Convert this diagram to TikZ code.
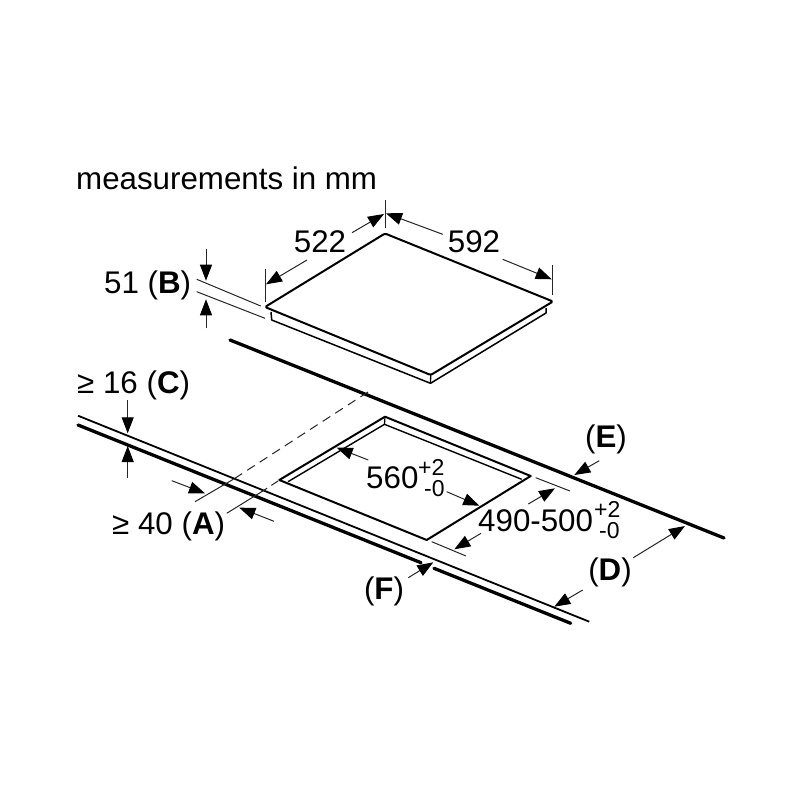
\documentclass[tikz,border=0pt]{standalone}
\usepackage{fontspec}
\setmainfont{Liberation Sans}
\usetikzlibrary{arrows.meta}
\tikzset{
  thickline/.style={line width=3.3pt,line cap=round},
  midline/.style={line width=2pt,line join=round},
  thinline/.style={line width=1pt,black!85},
  dim/.style={line width=1pt,black!85,-{Triangle[length=16pt,width=12pt,black]}},
  lab/.style={font=\fontsize{31.3}{34}\selectfont,inner sep=0pt,anchor=base},
  sm/.style={font=\fontsize{23}{24}\selectfont,inner sep=0pt,anchor=base west}
}
\begin{document}
\begin{tikzpicture}[x=1pt,y=-1pt]
\useasboundingbox (0,0) rectangle (800,800);
\fill[white] (0,0) rectangle (800,800);
% coordinates
\coordinate (hT) at (385,233.5);
\coordinate (hR) at (553,301.5);
\coordinate (hB) at (430.7,375);
\coordinate (hL) at (265,307);
% hob
\draw[midline,rounded corners=1.5pt] (hT) -- (hR) -- (hB) -- (hL) -- cycle;
\draw[line width=1.5pt,line join=round] (271,312) -- (271.7,320) -- (430.5,383.3) -- (546,313) -- (546,308);
\draw[line width=1.3pt] (hB) -- (430.5,383.3);
% hob dimensions
\coordinate (e1a) at (385,200); \coordinate (e1b) at (385,228);
\coordinate (e2a) at (265,269); \coordinate (e2b) at (265,302);
\coordinate (e3a) at (552.7,265); \coordinate (e3b) at (552.7,295);
\draw[thinline] (e1a) -- (e1b);
\draw[thinline] (e2a) -- (e2b);
\draw[thinline] (e3a) -- (e3b);
\coordinate (t1) at (352,232.7); \coordinate (t2) at (384,214);
\coordinate (t3) at (307,260); \coordinate (t4) at (266,284.3);
\coordinate (t5) at (442.7,234.3); \coordinate (t6) at (386,213.3);
\coordinate (t7) at (502.7,259.3); \coordinate (t8) at (551.7,279.3);
\draw[dim] (t1) -- (t2);
\draw[dim] (t3) -- (t4);
\draw[dim] (t5) -- (t6);
\draw[dim] (t7) -- (t8);
% 51
\coordinate (b1) at (196.7,279.3); \coordinate (b2) at (260.7,306);
\coordinate (b3) at (196.7,291.7); \coordinate (b4) at (265,318.3);
\draw[thinline] (b1) -- (b2);
\draw[thinline] (b3) -- (b4);
\coordinate (b5) at (206,249); \coordinate (b6) at (206,280.7);
\coordinate (b7) at (206,328.3); \coordinate (b8) at (206,299.3);
\draw[dim] (b5) -- (b6);
\draw[dim] (b7) -- (b8);
% worktop rear edge
\coordinate (w1) at (230,340); \coordinate (w2) at (724,538);
\draw[thickline] (w1) -- (w2);
% worktop front edge
\coordinate (f1) at (78,415.7); \coordinate (f2) at (589.3,621.7);
\coordinate (g1) at (78,425); \coordinate (g2) at (421,562.7);
\coordinate (g3) at (434,568.3); \coordinate (g4) at (570.7,623.3);
\draw[line width=1.8pt] (f1) -- (f2);
\draw[thickline] (g1) -- (g2);
\draw[thickline] (g3) -- (g4);
% dashed and A
\coordinate (d1) at (368,392); \coordinate (d2) at (233.3,479.3);
\coordinate (d3) at (195,501.7);
\coordinate (d4) at (278,481); \coordinate (d5) at (263.3,490.7); \coordinate (d6) at (226.7,513.3);
\draw[thinline,dash pattern=on 9pt off 6pt] (d1) -- (d2);
\draw[thinline] (d2) -- (d3);
\draw[thinline,dash pattern=on 8pt off 5pt] (d4) -- (d5);
\draw[thinline] (d5) -- (d6);
% cut-out
\coordinate (cT) at (385,416.7); \coordinate (cL) at (279.3,480);
\coordinate (cB) at (426.7,540); \coordinate (cR) at (530.7,476);
\coordinate (iT) at (384.5,424.3); \coordinate (iL) at (288,481.7); \coordinate (iR) at (521.7,479.3);
\draw[midline] (cT) -- (cL) -- (cB) -- (cR) -- cycle;
\draw[line width=1.4pt] (iL) -- (iT) -- (iR);
\draw[line width=1.2pt] (cT) -- (iT);
% dims of cut-out
\coordinate (c1) at (368.3,460); \coordinate (c2) at (336.7,447.7);
\coordinate (c3) at (446.7,491.7); \coordinate (c4) at (479.3,505.7);
\coordinate (c5) at (528.3,504); \coordinate (c6) at (555,488.3);
\coordinate (c7) at (481,533.3); \coordinate (c8) at (454.3,549.3);
\coordinate (x1) at (535.7,477.7); \coordinate (x2) at (570,491);
\coordinate (x3) at (431.7,541.7); \coordinate (x4) at (466,556);
\draw[thinline] (x1) -- (x2);
\draw[thinline] (x3) -- (x4);
\draw[dim] (c1) -- (c2);
\draw[dim] (c3) -- (c4);
\draw[dim] (c5) -- (c6);
\draw[dim] (c7) -- (c8);
% E, D, C, A, F arrows
\coordinate (a1) at (599.3,460.7); \coordinate (a2) at (574.3,475);
\coordinate (a3) at (633.3,557.7); \coordinate (a4) at (685,526);
\coordinate (a5) at (582.7,590); \coordinate (a6) at (554.3,606.7);
\coordinate (a7) at (127.7,400); \coordinate (a8) at (127.7,433.3);
\coordinate (a9) at (127.7,478.3); \coordinate (a10) at (127.7,446);
\coordinate (a11) at (171.7,480.7); \coordinate (a12) at (205,493.3);
\coordinate (a13) at (274,521.3); \coordinate (a14) at (239.3,507.7);
\coordinate (a15) at (408.3,577.7); \coordinate (a16) at (433.3,562.3);
\draw[dim] (a1) -- (a2);
\draw[dim] (a3) -- (a4);
\draw[dim] (a5) -- (a6);
\draw[dim] (a7) -- (a8);
\draw[dim] (a9) -- (a10);
\draw[dim] (a11) -- (a12);
\draw[dim] (a13) -- (a14);
\draw[dim] (a15) -- (a16);
% labels
\node[lab,anchor=base west] (title) at (76,189) {measurements in mm};
\node[lab] (n522) at (320,252) {522};
\node[lab] (n592) at (474,252) {592};
\node[lab,anchor=base west] (n51) at (104,293) {51 (\textbf{B})};
\node[lab,anchor=base west] (n16) at (77,393.5) {≥ 16 (\textbf{C})};
\node[lab,anchor=base west] (n40) at (112,534) {≥ 40 (\textbf{A})};
\node[lab] (nF) at (384,599.5) {(\textbf{F})};
\node[lab] (nE) at (606,447.5) {(\textbf{E})};
\node[lab] (nD) at (610,580.5) {(\textbf{D})};
\node[lab,anchor=base west] (n560) at (366,488) {560};
\node[sm] (n560a) at (418,475) {+2};
\node[sm] (n560b) at (424,496) {-0};
\node[lab,anchor=base west] (n490) at (478,531) {490-500};
\node[sm] (n490a) at (594,517.5) {+2};
\node[sm] (n490b) at (599,538.5) {-0};
\end{tikzpicture}
\end{document}
